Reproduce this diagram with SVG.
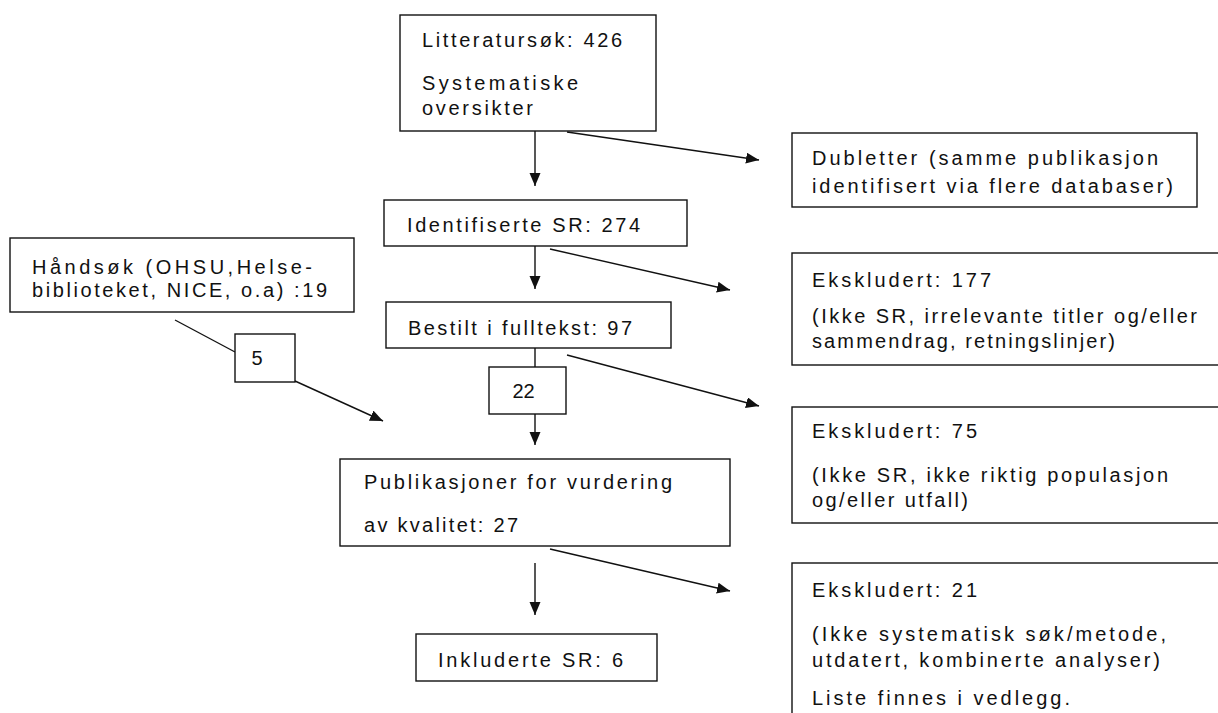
<svg xmlns="http://www.w3.org/2000/svg" width="1218" height="713" viewBox="0 0 1218 713">
<defs>
<style>
.box{fill:#fff;stroke:#111;stroke-width:1.4}
.t{font-family:"Liberation Sans",Arial,sans-serif;font-size:20px;fill:#111}
.c{fill:none;stroke:#111;stroke-width:1.4}
</style>
<marker id="ah" markerUnits="userSpaceOnUse" markerWidth="14" markerHeight="12" refX="13" refY="5.5" orient="auto">
<path d="M0,0 L13,5.5 L0,11 z" fill="#111"/>
</marker>
</defs>
<rect width="1218" height="713" fill="#fff"/>
<g id="connectors">
<line class="c" x1="535" y1="131" x2="535" y2="186" marker-end="url(#ah)"/>
<line class="c" x1="567" y1="132" x2="759" y2="160" marker-end="url(#ah)"/>
<line class="c" x1="535" y1="246" x2="535" y2="289" marker-end="url(#ah)"/>
<line class="c" x1="550" y1="249" x2="730" y2="290" marker-end="url(#ah)"/>
<line class="c" x1="535" y1="348" x2="535" y2="367"/>
<line class="c" x1="535" y1="414" x2="535" y2="445" marker-end="url(#ah)"/>
<line class="c" x1="567" y1="355" x2="759" y2="406" marker-end="url(#ah)"/>
<line class="c" x1="175" y1="320" x2="235" y2="352"/>
<line class="c" x1="295" y1="381" x2="383" y2="421" marker-end="url(#ah)"/>
<line class="c" x1="535" y1="563" x2="535" y2="615" marker-end="url(#ah)"/>
<line class="c" x1="550" y1="549" x2="730" y2="591" marker-end="url(#ah)"/>
</g>
<g id="litteratursok">
<rect class="box" x="400" y="15" width="256" height="116"/>
<text class="t" x="422" y="47" textLength="200" lengthAdjust="spacing">Litteratursøk: 426</text>
<text class="t" x="422" y="90" textLength="156" lengthAdjust="spacing">Systematiske</text>
<text class="t" x="422" y="115" textLength="111" lengthAdjust="spacing">oversikter</text>
</g>
<g id="dubletter">
<rect class="box" x="792" y="133" width="405" height="74"/>
<text class="t" x="812" y="165" textLength="346" lengthAdjust="spacing">Dubletter (samme publikasjon</text>
<text class="t" x="812" y="193" textLength="361" lengthAdjust="spacing">identifisert via flere databaser)</text>
</g>
<g id="identifiserte">
<rect class="box" x="384" y="200" width="303" height="46"/>
<text class="t" x="407" y="232" textLength="233" lengthAdjust="spacing">Identifiserte SR: 274</text>
</g>
<g id="ekskludert177">
<rect class="box" x="792" y="253" width="440" height="112"/>
<text class="t" x="812" y="287" textLength="179" lengthAdjust="spacing">Ekskludert: 177</text>
<text class="t" x="812" y="323" textLength="385" lengthAdjust="spacing">(Ikke SR, irrelevante titler og/eller</text>
<text class="t" x="812" y="348" textLength="303" lengthAdjust="spacing">sammendrag, retningslinjer)</text>
</g>
<g id="handsok">
<rect class="box" x="10" y="238" width="344" height="74"/>
<text class="t" x="32" y="274" textLength="280" lengthAdjust="spacing">Håndsøk (OHSU,Helse-</text>
<text class="t" x="32" y="297" textLength="295" lengthAdjust="spacing">biblioteket, NICE, o.a) :19</text>
</g>
<g id="bestilt">
<rect class="box" x="386" y="302" width="285" height="46"/>
<text class="t" x="408" y="335" textLength="224" lengthAdjust="spacing">Bestilt i fulltekst: 97</text>
</g>
<g id="label5">
<rect class="box" x="235" y="334" width="60" height="48"/>
<text class="t" x="257" y="365" text-anchor="middle">5</text>
</g>
<g id="label22">
<rect class="box" x="489" y="367" width="77" height="47"/>
<text class="t" x="523.5" y="398" text-anchor="middle">22</text>
</g>
<g id="ekskludert75">
<rect class="box" x="792" y="407" width="440" height="116"/>
<text class="t" x="812" y="438" textLength="165" lengthAdjust="spacing">Ekskludert: 75</text>
<text class="t" x="812" y="482" textLength="356" lengthAdjust="spacing">(Ikke SR, ikke riktig populasjon</text>
<text class="t" x="812" y="507" textLength="156" lengthAdjust="spacing">og/eller utfall)</text>
</g>
<g id="publikasjoner">
<rect class="box" x="340" y="459" width="390" height="87"/>
<text class="t" x="364" y="489" textLength="308" lengthAdjust="spacing">Publikasjoner for vurdering</text>
<text class="t" x="364" y="532" textLength="154" lengthAdjust="spacing">av kvalitet: 27</text>
</g>
<g id="ekskludert21">
<rect class="box" x="792" y="563" width="440" height="170"/>
<text class="t" x="812" y="597" textLength="165" lengthAdjust="spacing">Ekskludert: 21</text>
<text class="t" x="812" y="641" textLength="354" lengthAdjust="spacing">(Ikke systematisk søk/metode,</text>
<text class="t" x="812" y="667" textLength="348" lengthAdjust="spacing">utdatert, kombinerte analyser)</text>
<text class="t" x="812" y="705" textLength="258" lengthAdjust="spacing">Liste finnes i vedlegg.</text>
</g>
<g id="inkluderte">
<rect class="box" x="416" y="634" width="241" height="47"/>
<text class="t" x="438" y="667" textLength="185" lengthAdjust="spacing">Inkluderte SR: 6</text>
</g>
</svg>
